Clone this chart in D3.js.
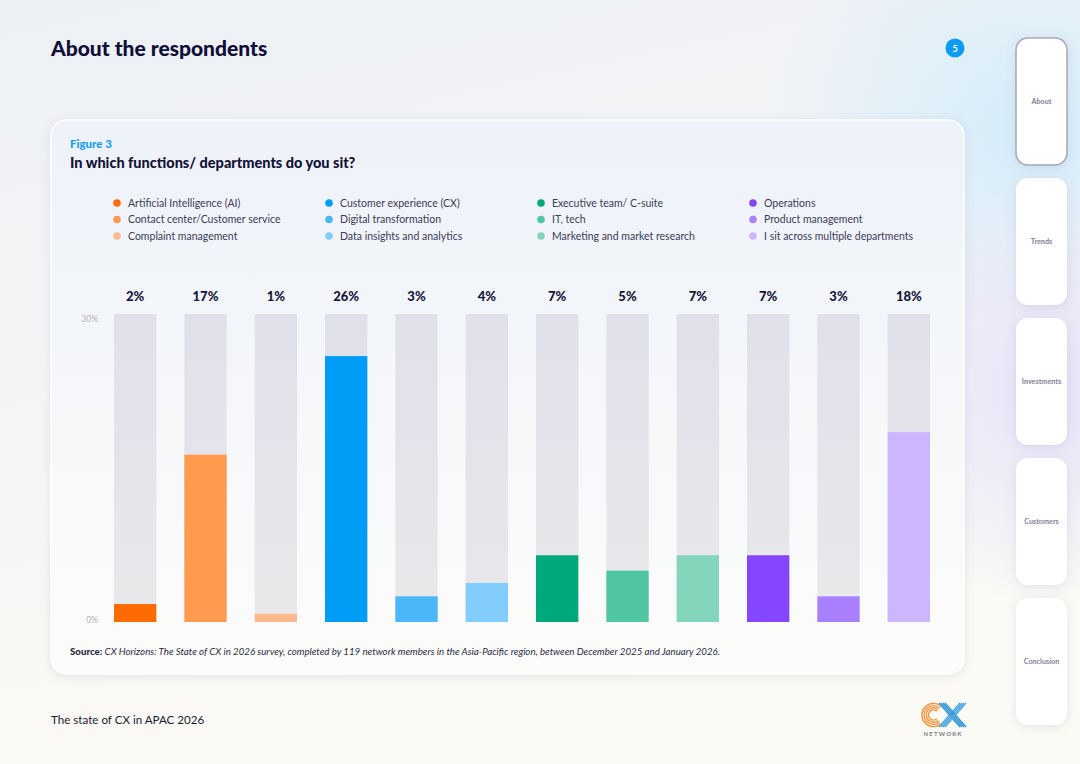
<!DOCTYPE html>
<html>
<head>
<meta charset="utf-8">
<script src="https://cdn.jsdelivr.net/npm/d3@7"></script>
<style>
  html, body { margin: 0; padding: 0; background: #f5f6f8; }
  svg { display: block; font-family: Lato, "Noto Sans", sans-serif; }
</style>
</head>
<body>
<svg id="page" width="1080" height="764"></svg>
<script>
// chart data
const categories = [
  'Artificial Intelligence (AI)', 'Contact center/Customer service', 'Complaint management',
  'Customer experience (CX)', 'Digital transformation', 'Data insights and analytics',
  'Executive team/ C-suite', 'IT, tech', 'Marketing and market research',
  'Operations', 'Product management', 'I sit across multiple departments'
];
const values = [1.75, 16.3, 0.8, 25.9, 2.5, 3.8, 6.5, 5.0, 6.5, 6.5, 2.5, 18.5];
const valueLabels = ['2%', '17%', '1%', '26%', '3%', '4%', '7%', '5%', '7%', '7%', '3%', '18%'];
const colors = [
  '#ff6b00', '#ff9a4f', '#ffb98c',
  '#009df7', '#4ab7f8', '#82cdfb',
  '#00a97b', '#4fc5a1', '#85d5bd',
  '#8446ff', '#a980ff', '#cdb6fd'
];
const yTicks = [0, 30];
const tabs = ['About', 'Trends', 'Investments', 'Customers', 'Conclusion'];

const svg = d3.select('#page');
const defs = svg.append('defs');

// page background
const bg = defs.append('linearGradient').attr('id', 'bg')
  .attr('x1', 0).attr('y1', 0).attr('x2', 0.3).attr('y2', 1);
bg.append('stop').attr('offset', 0).attr('stop-color', '#edf0f5');
bg.append('stop').attr('offset', 1).attr('stop-color', '#fbfaf5');
svg.append('rect').attr('width', 1080).attr('height', 764).attr('fill', 'url(#bg)');

const glowBlue = defs.append('radialGradient').attr('id', 'glowBlue');
glowBlue.append('stop').attr('offset', 0).attr('stop-color', '#d3ecfa').attr('stop-opacity', 1);
glowBlue.append('stop').attr('offset', 1).attr('stop-color', '#d3ecfa').attr('stop-opacity', 0);
svg.append('ellipse').attr('cx', 1030).attr('cy', 130).attr('rx', 260).attr('ry', 230)
  .attr('fill', 'url(#glowBlue)');

const glowLav = defs.append('radialGradient').attr('id', 'glowLav');
glowLav.append('stop').attr('offset', 0).attr('stop-color', '#e7e1f8').attr('stop-opacity', 1);
glowLav.append('stop').attr('offset', 1).attr('stop-color', '#e7e1f8').attr('stop-opacity', 0);
svg.append('ellipse').attr('cx', 1050).attr('cy', 390).attr('rx', 200).attr('ry', 220)
  .attr('fill', 'url(#glowLav)');

// header
svg.append('text').attr('x', 51).attr('y', 56)
  .attr('font-size', 21).attr('font-weight', 900).attr('fill', '#0e0e38')
  .text('About the respondents');
svg.append('circle').attr('cx', 955).attr('cy', 48).attr('r', 9.5).attr('fill', '#0b9bf2');
svg.append('text').attr('x', 955).attr('y', 51.5).attr('text-anchor', 'middle')
  .attr('font-size', 9).attr('font-weight', 700).attr('fill', '#fff').text('5');

// side tabs
const shadow = defs.append('filter').attr('id', 'shadow')
  .attr('x', -0.2).attr('y', -0.2).attr('width', 1.4).attr('height', 1.4);
shadow.append('feDropShadow').attr('dx', 0).attr('dy', 2).attr('stdDeviation', 5)
  .attr('flood-color', '#7a7fa8').attr('flood-opacity', 0.18);

const tab = svg.append('g').selectAll('g').data(tabs).join('g')
  .attr('transform', (d, i) => `translate(1016, ${38 + i * 140})`);
tab.append('rect').attr('width', 51).attr('height', 127).attr('rx', 12)
  .attr('fill', '#fff').attr('filter', 'url(#shadow)')
  .attr('stroke', (d, i) => i === 0 ? '#a9a6b8' : 'none').attr('stroke-width', 1.5);
tab.append('text').attr('x', 25.5).attr('y', 66).attr('text-anchor', 'middle')
  .attr('font-size', 7.2).attr('font-weight', 900).attr('fill', '#8a8a9e')
  .text(d => d);

// card
const cardGrad = defs.append('linearGradient').attr('id', 'card')
  .attr('x1', 0).attr('y1', 0).attr('x2', 0).attr('y2', 1);
cardGrad.append('stop').attr('offset', 0).attr('stop-color', '#eef2f9');
cardGrad.append('stop').attr('offset', 1).attr('stop-color', '#fcfcfa');
svg.append('rect').attr('x', 51).attr('y', 120).attr('width', 913).attr('height', 554)
  .attr('rx', 16).attr('fill', 'url(#card)').attr('stroke', '#ffffff').attr('stroke-width', 1.5)
  .attr('filter', 'url(#shadow)');

svg.append('text').attr('x', 70).attr('y', 148)
  .attr('font-size', 11.5).attr('font-weight', 900).attr('fill', '#1a9cf1').text('Figure 3');
svg.append('text').attr('x', 70).attr('y', 168)
  .attr('font-size', 14.5).attr('font-weight', 900).attr('fill', '#121238')
  .text('In which functions/ departments do you sit?');

// legend: 4 columns of 3
const legend = svg.append('g').selectAll('g').data(categories).join('g')
  .attr('transform', (d, i) => `translate(${117 + Math.floor(i / 3) * 212}, ${203 + (i % 3) * 16.5})`);
legend.append('circle').attr('r', 3.8).attr('fill', (d, i) => colors[i]);
legend.append('text').attr('x', 11).attr('y', 3.8)
  .attr('font-size', 10.5).attr('fill', '#3b3b5c').text(d => d);

// scales
const x = d3.scaleBand().domain(d3.range(categories.length))
  .range([100, 944]).paddingInner(0.398).paddingOuter(0.199);
const y = d3.scaleLinear().domain([0, 30]).range([622, 314]);

// y axis labels
const yAxis = svg.append('g').attr('transform', 'translate(98,0)')
  .call(d3.axisLeft(y).tickValues(yTicks).tickFormat(d => d + '%').tickSize(0).tickPadding(0));
yAxis.select('.domain').remove();
yAxis.selectAll('text').attr('font-size', 8.5).attr('fill', '#b3b3bd')
  .attr('font-family', 'Lato, sans-serif');
yAxis.selectAll('.tick').filter(d => d === 30).select('text').attr('dy', '0.85em');
yAxis.selectAll('.tick').filter(d => d === 0).select('text').attr('dy', '0');

// track bars
const track = defs.append('linearGradient').attr('id', 'track')
  .attr('x1', 0).attr('y1', 0).attr('x2', 0).attr('y2', 1);
track.append('stop').attr('offset', 0).attr('stop-color', '#dfe0ea');
track.append('stop').attr('offset', 1).attr('stop-color', '#e9e9eb');

const bars = svg.append('g');
bars.selectAll('rect.track').data(values).join('rect').attr('class', 'track')
  .attr('x', (d, i) => x(i)).attr('width', x.bandwidth())
  .attr('y', y(30)).attr('height', y(0) - y(30))
  .attr('fill', 'url(#track)');
bars.selectAll('rect.val').data(values).join('rect').attr('class', 'val')
  .attr('x', (d, i) => x(i)).attr('width', x.bandwidth())
  .attr('y', d => y(d)).attr('height', d => y(0) - y(d))
  .attr('fill', (d, i) => colors[i]);

// value labels
svg.append('g').selectAll('text').data(valueLabels).join('text')
  .attr('x', (d, i) => x(i) + x.bandwidth() / 2).attr('y', 301)
  .attr('text-anchor', 'middle').attr('font-size', 13).attr('font-weight', 900)
  .attr('fill', '#15153a').text(d => d);

// source
const src = svg.append('text').attr('x', 70).attr('y', 655)
  .attr('font-size', 9.7).attr('fill', '#2a2a48');
src.append('tspan').attr('font-weight', 900).text('Source: ');
src.append('tspan').attr('font-style', 'italic')
  .text('CX Horizons: The State of CX in 2026 survey, completed by 119 network members in the Asia-Pacific region, between December 2025 and January 2026.');

// footer
svg.append('text').attr('x', 51).attr('y', 724)
  .attr('font-size', 11.6).attr('fill', '#1a1a30').text('The state of CX in APAC 2026');

// logo: striped C and X drawn as paths, wordmark below
const logo = svg.append('g').attr('transform', 'translate(921,702)');
[5, 7.2, 9.4, 11.6].forEach(r => {
  const p = d3.path();
  p.arc(12.5, 13, r, Math.PI * 0.27, Math.PI * 1.73);
  logo.append('path').attr('d', p.toString()).attr('fill', 'none')
    .attr('stroke', '#f7923a').attr('stroke-width', 1.4);
});
[-3, -1, 1, 3].forEach(o => {
  logo.append('line').attr('x1', 21 + o).attr('y1', 1).attr('x2', 42 + o).attr('y2', 25)
    .attr('stroke', '#2f95d6').attr('stroke-width', 1.3);
  logo.append('line').attr('x1', 42 + o).attr('y1', 1).attr('x2', 21 + o).attr('y2', 25)
    .attr('stroke', '#4aa6e0').attr('stroke-width', 1.3);
});
logo.append('text').attr('x', 22).attr('y', 34).attr('text-anchor', 'middle')
  .attr('font-size', 6).attr('font-weight', 700).attr('letter-spacing', 1.2)
  .attr('fill', '#7c7c86').text('NETWORK');
</script>
</body>
</html>
